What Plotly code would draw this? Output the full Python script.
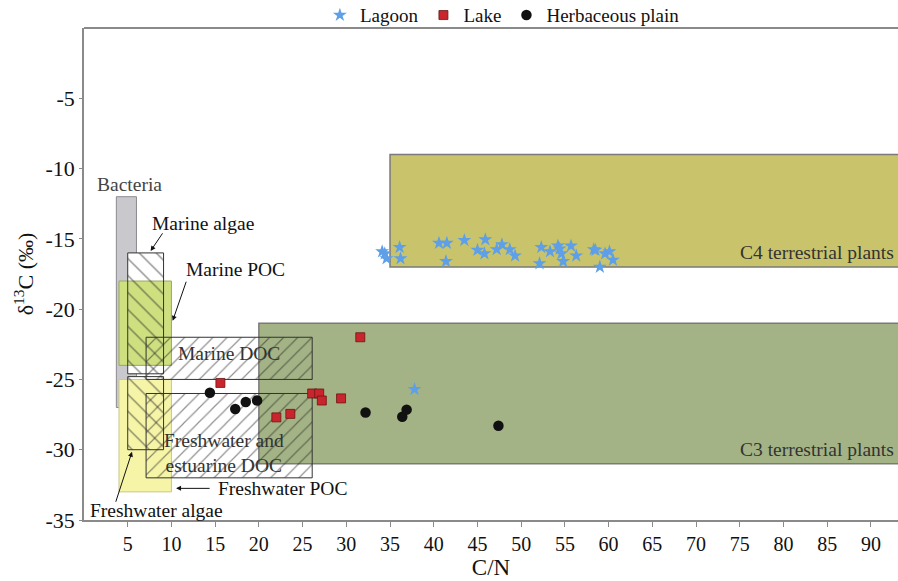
import plotly.graph_objects as go

# ---------------- data ----------------
lagoon_cn = [34.1, 34.4, 34.6, 36.1, 36.2, 40.6, 41.5, 41.4, 43.5, 45.0, 45.9, 45.8,
             47.2, 47.8, 48.7, 49.3, 52.1, 52.3, 53.3, 54.2, 54.4, 54.6, 54.8, 55.7,
             56.3, 58.3, 58.5, 59.0, 59.6, 60.1, 60.5, 37.8]
lagoon_d13c = [-15.9, -16.05, -16.4, -15.6, -16.4, -15.3, -15.3, -16.6, -15.1, -15.8, -15.05, -16.05,
               -15.75, -15.4, -15.75, -16.2, -16.75, -15.6, -15.9, -15.5, -15.7, -16.05, -16.6, -15.5,
               -16.2, -15.75, -15.8, -17.0, -16.05, -15.9, -16.5, -25.7]

lake_cn = [31.6, 15.6, 26.1, 26.9, 27.2, 29.4, 22.0, 23.6]
lake_d13c = [-22.0, -25.25, -26.0, -26.0, -26.5, -26.35, -27.7, -27.45]

herb_cn = [14.4, 17.3, 18.5, 19.8, 32.2, 36.4, 36.9, 47.4]
herb_d13c = [-25.95, -27.1, -26.6, -26.5, -27.35, -27.65, -27.15, -28.3]

# filled source fields: name, C/N min, C/N max, d13C min, d13C max
back_names = ["C4 terrestrial plants", "C3 terrestrial plants", "Bacteria"]
back_cn_min = [35, 20, 3.7]
back_cn_max = [95, 95, 6]
back_d13c_min = [-17, -31, -27]
back_d13c_max = [-9, -21, -12]

poc_names = ["Marine POC", "Freshwater POC"]
poc_cn_min = [4, 4]
poc_cn_max = [10, 10]
poc_d13c_min = [-24, -33]
poc_d13c_max = [-18, -25]

# hatched source fields
algae_names = ["Marine algae", "Freshwater algae"]
algae_cn_min = [5, 5]
algae_cn_max = [9.1, 9.1]
algae_d13c_min = [-24.6, -30]
algae_d13c_max = [-16, -24.8]

doc_names = ["Marine DOC", "Freshwater and estuarine DOC"]
doc_cn_min = [7.1, 7.1]
doc_cn_max = [26.1, 26.1]
doc_d13c_min = [-25, -32]
doc_d13c_max = [-22, -26]

x_ticks = [5, 10, 15, 20, 25, 30, 35, 40, 45, 50, 55, 60, 65, 70, 75, 80, 85, 90]
y_ticks = [-5, -10, -15, -20, -25, -30, -35]

# ---------------- styles ----------------
FONT = "Liberation Serif"
back_colors = ["#c9c46b", "#a3b385", "#c9c9cd"]
back_lines = ["#7a7a7a", "#7a7a7a", "#8a8a90"]
poc_colors = ["#cddf7f", "#f6f4a6"]
poc_lines = ["#9aa860", "#c8c690"]

fig = go.Figure()

shapes = []


def rects(x0s, x1s, y0s, y1s, fills, lines, widths):
    for a, b, c, d, f, l, w in zip(x0s, x1s, y0s, y1s, fills, lines, widths):
        shapes.append(dict(type="rect", xref="x", yref="y", layer="below",
                           x0=a, x1=b, y0=c, y1=d, fillcolor=f,
                           line=dict(color=l, width=w)))


rects(back_cn_min, back_cn_max, back_d13c_min, back_d13c_max, back_colors, back_lines, [1.5, 1.5, 1])
# opaque white ground of the algae fields (hatch is drawn later on top)
rects(algae_cn_min, algae_cn_max, algae_d13c_min, algae_d13c_max,
      ["white", "white"], ["rgba(0,0,0,0)", "rgba(0,0,0,0)"], [0, 0])
rects(poc_cn_min, poc_cn_max, poc_d13c_min, poc_d13c_max, poc_colors, poc_lines, [1, 1])

# top frame line
shapes.append(dict(type="line", xref="paper", yref="paper", x0=0, x1=1, y0=1, y1=1,
                   line=dict(color="#8a8a8a", width=2)))


def hatched(names, x0s, x1s, y0s, y1s, shape, size):
    return go.Bar(
        x=[(a + b) / 2 for a, b in zip(x0s, x1s)],
        width=[b - a for a, b in zip(x0s, x1s)],
        base=y0s,
        y=[b - a for a, b in zip(y0s, y1s)],
        text=names, textposition="none", hoverinfo="text",
        marker=dict(color="rgba(0,0,0,0)",
                    line=dict(color="#333333", width=1),
                    pattern=dict(shape=shape, size=size, solidity=0.12,
                                 fgcolor="#222222", bgcolor="rgba(0,0,0,0)")),
        showlegend=False)


fig.add_trace(hatched(algae_names, algae_cn_min, algae_cn_max, algae_d13c_min, algae_d13c_max, "\\", 12))
fig.add_trace(hatched(doc_names, doc_cn_min, doc_cn_max, doc_d13c_min, doc_d13c_max, "/", 10))

fig.add_trace(go.Scatter(x=lagoon_cn, y=lagoon_d13c, mode="markers", name="Lagoon",
                         marker=dict(symbol="star", size=10.5, color="#5d9fe8", line=dict(width=0))))
fig.add_trace(go.Scatter(x=lake_cn, y=lake_d13c, mode="markers", name="Lake",
                         marker=dict(symbol="square", size=9, color="#c8262c",
                                     line=dict(color="#6a1414", width=0.8))))
fig.add_trace(go.Scatter(x=herb_cn, y=herb_d13c, mode="markers", name="Herbaceous plain",
                         marker=dict(symbol="circle", size=10.5, color="#111111", line=dict(width=0))))

# ---------------- labels ----------------
ann = []


def label(text, x, y, color="#111111", xanchor="center", size=19.5):
    ann.append(dict(text=text, x=x, y=y, xref="x", yref="y", showarrow=False,
                    xanchor=xanchor, yanchor="middle",
                    font=dict(family=FONT, size=size, color=color)))


def arrow(x, y, ax, ay):
    ann.append(dict(text="", x=x, y=y, ax=ax, ay=ay, xref="x", yref="y",
                    axref="x", ayref="y", showarrow=True, arrowhead=2,
                    arrowsize=1, arrowwidth=1, arrowcolor="#111111"))


label("Bacteria", 5.2, -11.1, color="#444444")
label("Marine algae", 13.6, -13.9)
label("Marine POC", 17.3, -17.15)
label("Marine DOC", 16.6, -23.15, color="#333333")
label("Freshwater and<br>estuarine DOC", 16.0, -30.2, color="#333333")
label("Freshwater POC", 22.7, -32.75)
label("Freshwater algae", 8.3, -34.3)
label("C4 terrestrial plants", 92.9, -16.0, color="#333333", xanchor="right")
label("C3 terrestrial plants", 92.9, -30.0, color="#333333", xanchor="right")

arrow(7.62, -15.86, 9.1, -14.5)
arrow(10.14, -20.83, 11.75, -17.94)
arrow(5.49, -30.15, 3.58, -33.81)
arrow(10.53, -32.75, 14.54, -32.75)

fig.update_layout(
    width=898, height=581,
    margin=dict(l=84, r=0, t=28, b=61, autoexpand=False),
    paper_bgcolor="white", plot_bgcolor="white",
    barmode="overlay",
    shapes=shapes, annotations=ann,
    font=dict(family=FONT, size=19, color="#111111"),
    legend=dict(orientation="h", x=0.514, xanchor="center", y=1.026, yanchor="middle",
                font=dict(family=FONT, size=19, color="#111111"),
                itemwidth=30, tracegroupgap=0, bgcolor="rgba(0,0,0,0)"),
    xaxis=dict(range=[0, 93.1], tickvals=x_ticks, ticktext=[str(v) for v in x_ticks],
               showgrid=False, zeroline=False, showline=True, linecolor="#8a8a8a", linewidth=1.5,
               ticks="outside", ticklen=5, tickcolor="#8a8a8a",
               tickfont=dict(family=FONT, size=20, color="#111111"),
               title=dict(text="C/N", font=dict(family=FONT, size=23, color="#111111"), standoff=1)),
    yaxis=dict(range=[-35, 0], tickvals=y_ticks, ticktext=[str(v) for v in y_ticks],
               showgrid=False, zeroline=False, showline=True, linecolor="#8a8a8a", linewidth=1.5,
               ticks="outside", ticklen=3, tickcolor="#8a8a8a",
               tickfont=dict(family=FONT, size=22, color="#111111"),
               title=dict(text="δ<sup>13</sup>C (‰)", font=dict(family=FONT, size=22, color="#111111"),
                          standoff=6)),
)

fig.write_html("out.html", config={"displayModeBar": False},
               post_script="document.body.style.margin='0px';")
